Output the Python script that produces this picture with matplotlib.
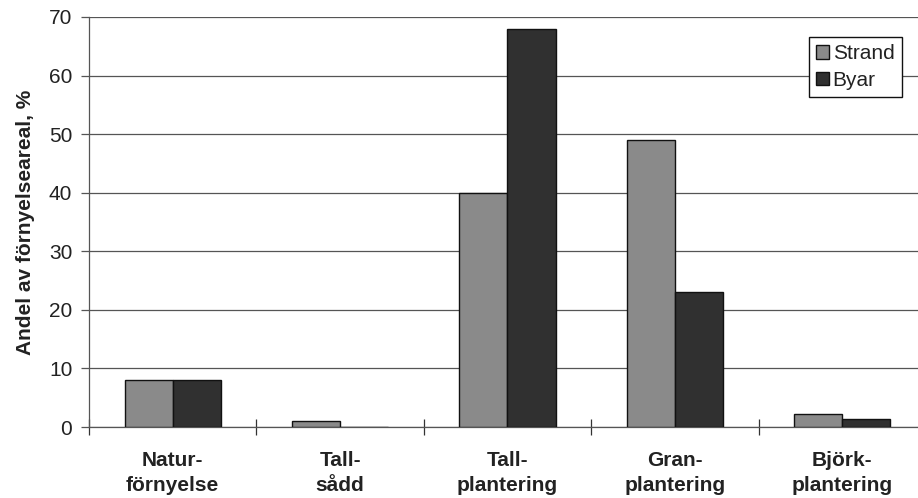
import matplotlib
matplotlib.use("Agg")
import matplotlib.pyplot as plt
import numpy as np

plt.rcParams['font.family'] = ['Liberation Sans', 'DejaVu Sans']

categories = ["Natur-\nförnyelse", "Tall-\nsådd", "Tall-\nplantering", "Gran-\nplantering", "Björk-\nplantering"]
strand = [8, 1, 40, 49, 2.3]
byar = [8, 0, 68, 23, 1.3]
yticks = [0, 10, 20, 30, 40, 50, 60, 70]

txt = "#222222"
fs = 15
fig = plt.figure(figsize=(9.18, 4.98), dpi=100)
ax = fig.add_axes([89/918, 1-427/498, (926-89)/918, 410/498])

x = np.arange(len(categories))
w = 0.287
ax.bar(x - w/2, strand, w, color="#8a8a8a", edgecolor="#111111", linewidth=1.0, label="Strand", zorder=3)
ax.bar(x + w/2, byar, w, color="#303030", edgecolor="#111111", linewidth=1.0, label="Byar", zorder=3)

ax.set_xlim(-0.5, len(categories) - 0.5)
ax.set_ylim(0, 70)
ax.set_yticks(yticks)
ax.yaxis.grid(True, color="#555555", linewidth=0.9, zorder=0)
ax.set_axisbelow(True)

for s in ["top", "right"]:
    ax.spines[s].set_visible(False)
for s in ["left", "bottom"]:
    ax.spines[s].set_color("#555555")
    ax.spines[s].set_linewidth(0.9)

# boundaries between categories carry the tick marks, centres carry the labels
ax.set_xticks(np.arange(-0.5, len(categories) - 0.5, 1.0))
ax.set_xticklabels([])
ax.set_xticks(x, minor=True)
ax.set_xticklabels(categories, minor=True, fontsize=fs, fontweight="bold", color=txt, linespacing=1.45)
ax.tick_params(axis="x", which="major", direction="inout", length=12, color="#333333", width=0.9)
ax.tick_params(axis="x", which="minor", length=0, pad=17)
ax.tick_params(axis="y", direction="out", length=6, color="#555555", width=0.9, labelsize=fs,
               labelcolor=txt, pad=6)

ax.set_ylabel("Andel av förnyelseareal, %", fontsize=fs, fontweight="bold", color=txt, labelpad=10)

leg = ax.legend(loc="upper right", bbox_to_anchor=(0.971, 0.951), fontsize=fs, frameon=True,
                fancybox=False, edgecolor="#111111", framealpha=1, handlelength=0.6,
                handleheight=0.6, handletextpad=0.2, borderpad=0.35, labelspacing=0.35,
                borderaxespad=0)
leg.get_frame().set_linewidth(1.0)
for t in leg.get_texts():
    t.set_color(txt)

fig.savefig("out.png", dpi=100)
